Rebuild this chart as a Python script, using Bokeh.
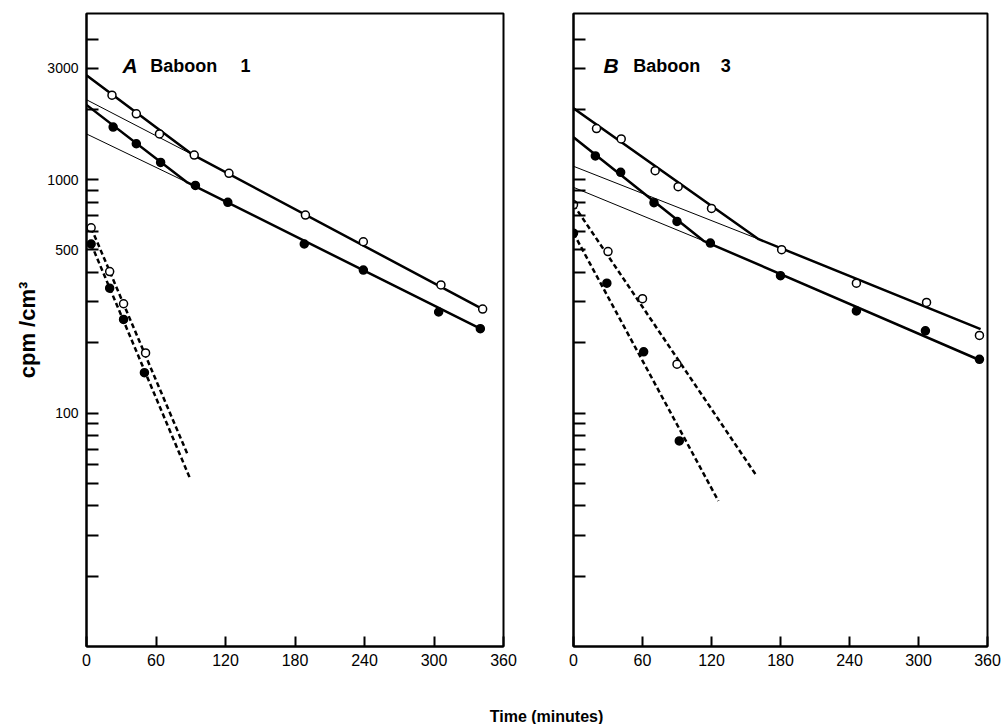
from bokeh.plotting import figure
from bokeh.layouts import row, column
from bokeh.models import FixedTicker, Range1d
from bokeh.core.properties import value
from bokeh.embed import file_html
from bokeh.resources import INLINE

# axis ticks
x_ticks = [0, 60, 120, 180, 240, 300, 360]
y_ticks = [20, 30, 40, 50, 60, 70, 80, 90, 100, 200, 300, 400, 500, 600, 700, 800, 900,
           1000, 2000, 3000, 4000]
y_labels_a = {100: "100", 500: "500", 1000: "1000", 3000: "3000"}

# Panel A, Baboon 1 -- points (minutes, cpm/cm3)
a_open_t = [22, 43, 63, 93, 123, 189, 239, 306, 342]
a_open_y = [2300, 1915, 1570, 1275, 1065, 705, 542, 354, 279]
a_fill_t = [23, 43, 64, 94, 122, 188, 239, 304, 340]
a_fill_y = [1680, 1425, 1185, 945, 800, 530, 410, 271, 230]
a_dopen_t = [4, 20, 32, 51]
a_dopen_y = [622, 404, 294, 181]
a_dfill_t = [4, 20, 32, 50]
a_dfill_y = [530, 343, 252, 149]
# Panel A fitted lines
a_open_fit_t = [0, 92, 342]
a_open_fit_y = [2800, 1276, 279]
a_open_slow_t = [0, 92]
a_open_slow_y = [2200, 1276]
a_fill_fit_t = [0, 87, 340]
a_fill_fit_y = [2090, 973, 230]
a_fill_slow_t = [0, 87]
a_fill_slow_y = [1570, 973]
a_dopen_fit_t = [4, 87]
a_dopen_fit_y = [622, 67]
a_dfill_fit_t = [4, 89]
a_dfill_fit_y = [530, 53]

# Panel B, Baboon 3
b_open_t = [20, 41.5, 71, 91, 120, 181, 246, 307, 353]
b_open_y = [1655, 1495, 1093, 933, 753, 501, 360, 298, 215]
b_fill_t = [19, 41, 70, 90, 119, 180, 246, 306, 353]
b_fill_y = [1264, 1075, 797, 662, 535, 388, 274, 225, 170]
b_dopen_t = [0, 30, 60, 90]
b_dopen_y = [781, 492, 309, 162]
b_dfill_t = [0, 29, 61, 92]
b_dfill_y = [590, 360, 183, 76]
# Panel B fitted lines
b_open_fit_t = [0, 161, 354]
b_open_fit_y = [2023, 556, 229]
b_open_slow_t = [0, 161]
b_open_slow_y = [1141, 556]
b_fill_fit_t = [0, 113, 354]
b_fill_fit_y = [1519, 547, 168]
b_fill_slow_t = [0, 113]
b_fill_slow_y = [927, 547]
b_dopen_fit_t = [0, 159]
b_dopen_fit_y = [781, 54]
b_dfill_fit_t = [0, 126]
b_dfill_fit_y = [590, 42]

FONT = "Liberation Sans"


def make_panel(frame_w, border_l, border_r, labels):
    p = figure(frame_width=frame_w, frame_height=633, y_axis_type="log",
               x_range=Range1d(0, 360), y_range=Range1d(10, 5150),
               min_border_left=border_l, min_border_right=border_r,
               min_border_top=13, min_border_bottom=44,
               output_backend="svg", toolbar_location=None)
    p.grid.visible = False
    p.outline_line_color = "black"
    p.outline_line_width = 2
    p.outline_line_alpha = 1

    p.xaxis.ticker = FixedTicker(ticks=x_ticks)
    p.xaxis.major_tick_in = 10
    p.xaxis.major_tick_out = 0
    p.xaxis.major_label_standoff = 7
    p.xaxis.major_label_text_font_size = "16px"

    p.yaxis.ticker = FixedTicker(ticks=y_ticks)
    p.yaxis.major_tick_in = 12
    p.yaxis.major_tick_out = 0
    p.yaxis.major_label_standoff = 8
    p.yaxis.major_label_text_font_size = "14px"
    p.yaxis.major_label_overrides = {t: labels.get(t, "") for t in y_ticks}

    for ax in p.axis:
        ax.minor_tick_line_color = None
        ax.axis_line_width = 2
        ax.major_tick_line_width = 2
        ax.major_label_text_font = FONT
        ax.major_label_text_color = "black"
    return p


def draw(p, fits, dashed, points):
    for t, y, w in fits:
        p.line(t, y, line_color="black", line_width=w)
    for t, y in dashed:
        p.line(t, y, line_color="black", line_width=2.5, line_dash="5 3")
    for t, y, fill in points:
        p.scatter(t, y, marker="circle", size=8, fill_color=fill,
                  line_color="black", line_width=1.5)


# left panel
pa = make_panel(417, 86, 20, y_labels_a)
pa.yaxis.axis_label = "cpm /cm³"
pa.yaxis.axis_label_text_font = FONT
pa.yaxis.axis_label_text_font_size = "22px"
pa.yaxis.axis_label_text_font_style = "bold"
pa.yaxis.axis_label_text_color = "black"
pa.yaxis.axis_label_standoff = 4
draw(pa,
     [(a_open_slow_t, a_open_slow_y, 1), (a_fill_slow_t, a_fill_slow_y, 1),
      (a_open_fit_t, a_open_fit_y, 2.5), (a_fill_fit_t, a_fill_fit_y, 2.5)],
     [(a_dopen_fit_t, a_dopen_fit_y), (a_dfill_fit_t, a_dfill_fit_y)],
     [(a_open_t, a_open_y, "white"), (a_fill_t, a_fill_y, "black"),
      (a_dopen_t, a_dopen_y, "white"), (a_dfill_t, a_dfill_y, "black")])
pa.text(x=[31], y=[3080], text=["A"], text_font=value(FONT), text_font_size="21px",
        text_font_style="bold italic", text_baseline="alphabetic")
pa.text(x=[55, 133], y=[3080, 3080], text=["Baboon", "1"], text_font=value(FONT),
        text_font_size="18px", text_font_style="bold", text_baseline="alphabetic")

# right panel
pb = make_panel(414, 50, 15, {})
draw(pb,
     [(b_open_slow_t, b_open_slow_y, 1), (b_fill_slow_t, b_fill_slow_y, 1),
      (b_open_fit_t, b_open_fit_y, 2.5), (b_fill_fit_t, b_fill_fit_y, 2.5)],
     [(b_dopen_fit_t, b_dopen_fit_y), (b_dfill_fit_t, b_dfill_fit_y)],
     [(b_open_t, b_open_y, "white"), (b_fill_t, b_fill_y, "black"),
      (b_dopen_t, b_dopen_y, "white"), (b_dfill_t, b_dfill_y, "black")])
pb.text(x=[26], y=[3080], text=["B"], text_font=value(FONT), text_font_size="21px",
        text_font_style="bold italic", text_baseline="alphabetic")
pb.text(x=[52, 128], y=[3080, 3080], text=["Baboon", "3"], text_font=value(FONT),
        text_font_size="18px", text_font_style="bold", text_baseline="alphabetic")

# shared x title
pt = figure(width=1002, height=34, x_range=Range1d(0, 1002), y_range=Range1d(0, 34),
            min_border=0, output_backend="svg", toolbar_location=None)
pt.axis.visible = False
pt.grid.visible = False
pt.outline_line_color = None
pt.text(x=[546], y=[8], text=["Time (minutes)"], text_font=value(FONT),
        text_font_size="16px", text_font_style="bold", text_align="center",
        text_baseline="middle")

layout = column(row(pa, pb, spacing=0), pt, spacing=0)
open("out.html", "w").write(file_html(layout, INLINE))
